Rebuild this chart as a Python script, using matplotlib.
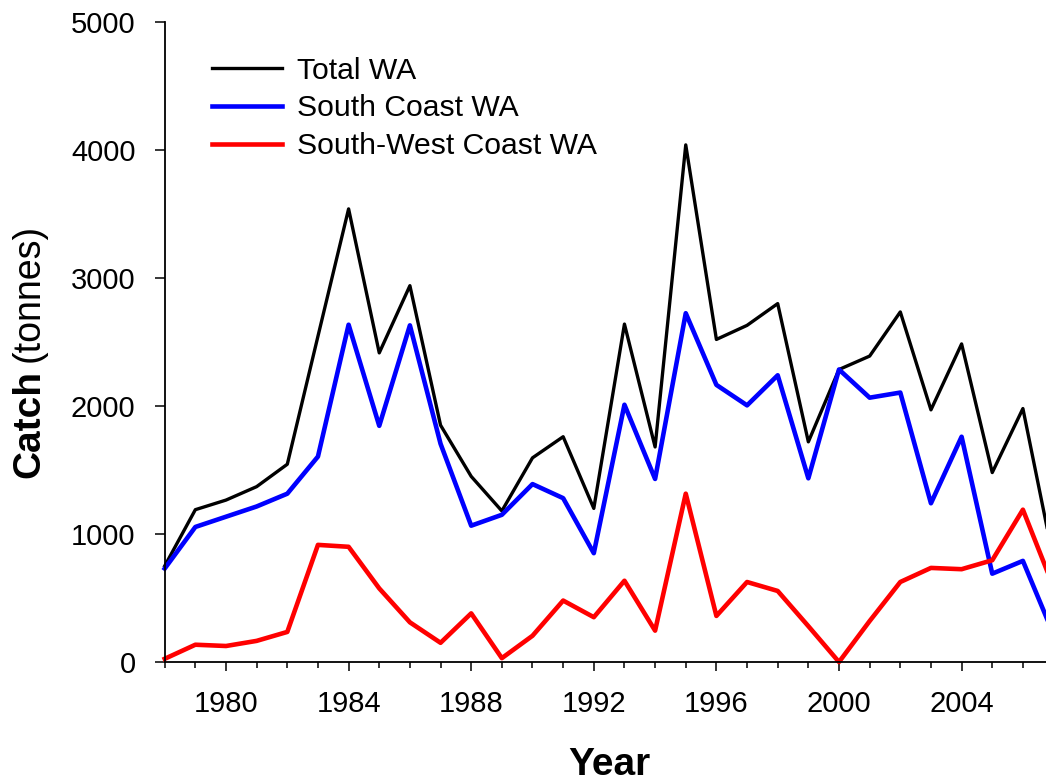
import matplotlib
matplotlib.use("Agg")
import matplotlib.pyplot as plt
from matplotlib.ticker import MultipleLocator

plt.rcParams['font.family'] = ['Liberation Sans', 'DejaVu Sans']

years = list(range(1978, 2008))
total_wa = [750, 1190, 1265, 1370, 1545, 2545, 3540, 2415, 2940, 1850,
            1450, 1180, 1595, 1760, 1200, 2640, 1680, 4040, 2520, 2630,
            2800, 1720, 2285, 2390, 2735, 1970, 2485, 1480, 1980, 800]
south_coast = [730, 1055, 1135, 1215, 1315, 1605, 2635, 1845, 2630, 1705,
               1065, 1150, 1390, 1280, 850, 2010, 1430, 2725, 2165, 2005,
               2240, 1435, 2285, 2065, 2105, 1240, 1760, 690, 790, 215]
south_west = [25, 135, 125, 165, 235, 915, 900, 575, 310, 150,
              380, 30, 205, 480, 350, 635, 245, 1315, 360, 625,
              555, 280, 0, 320, 625, 735, 725, 795, 1190, 585]

W, H = 1046, 782
fig = plt.figure(figsize=(W / 100, H / 100), dpi=100)

# plot area runs past the right edge of the picture (as in the reference)
x0, y0 = 164.7, 662
px_year = 30.65
ax = fig.add_axes([x0 / W, (H - y0) / H, 30 * px_year / W, 640 / H])

ax.plot(years, total_wa, color='black', lw=2.4, label='Total WA', clip_on=False)
ax.plot(years, south_coast, color='#0000ff', lw=3.3, label='South Coast WA', clip_on=False)
ax.plot(years, south_west, color='#ff0000', lw=3.3, label='South-West Coast WA', clip_on=False)

ax.set_xlim(1978, 2008)
ax.set_ylim(0, 5000)
ax.xaxis.set_minor_locator(MultipleLocator(1))
ax.set_xticks(range(1980, 2008, 4))
ax.yaxis.set_major_locator(MultipleLocator(1000))

for side in ('top', 'right'):
    ax.spines[side].set_visible(False)
for side in ('left', 'bottom'):
    ax.spines[side].set_linewidth(1.3)

ax.tick_params(axis='x', which='major', direction='out', length=6.5, width=1.1,
               pad=14, labelsize=21)
ax.tick_params(axis='x', which='minor', direction='out', length=4.3, width=1.1)
ax.tick_params(axis='y', which='major', direction='out', length=7, width=1.1,
               pad=14, labelsize=21)

leg = ax.legend(loc='upper left', bbox_to_anchor=(0.038, 0.9645), frameon=False,
                fontsize=21.7, handlelength=2.32, handletextpad=0.52,
                labelspacing=0.32, borderaxespad=0)

fig.text(609 / W, (H - 765) / H, 'Year', fontsize=28, fontweight='bold',
         ha='center', va='center')

# y label: bold "Catch" followed by regular "(tonnes)"
t1 = fig.text(29 / W, (H - 478) / H, 'Catch', fontsize=28, fontweight='bold',
              rotation=90, rotation_mode='anchor', ha='left', va='center')
fig.canvas.draw()
bb = t1.get_window_extent()
fig.text(29 / W, (bb.y1 + 8) / H, '(tonnes)', fontsize=27,
         rotation=90, rotation_mode='anchor', ha='left', va='center')

fig.savefig('out.png', dpi=100)
